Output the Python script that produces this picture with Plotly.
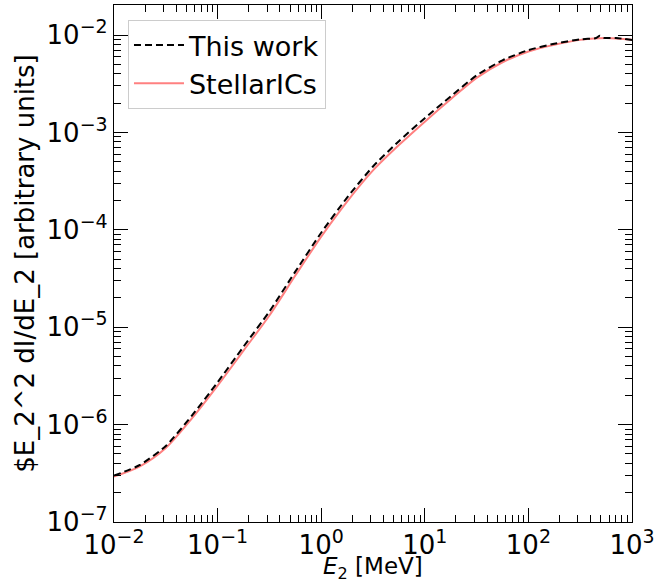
import plotly.graph_objects as go

# Photon energy E2 [MeV]
energy = [0.01, 0.01778, 0.03162, 0.05623, 0.1, 0.1778, 0.3162, 0.5623,
          1.0, 1.778, 3.162, 5.623, 10.0, 17.78, 31.62, 56.23,
          100.0, 177.8, 316.2, 562.3, 1000.0]

# StellarICs spectrum (arbitrary units)
stellarics = [2.92e-7, 3.72e-7, 5.75e-7, 1.15e-6, 2.51e-6, 5.75e-6, 1.32e-5, 3.39e-5,
              8.51e-5, 1.95e-4, 4.07e-4, 7.41e-4, 1.29e-3, 2.19e-3, 3.63e-3, 5.25e-3,
              6.76e-3, 7.94e-3, 8.91e-3, 9.33e-3, 8.91e-3]

# This work (slightly noisy at high energy)
energy_tw = [0.01, 0.01778, 0.03162, 0.05623, 0.1, 0.1778, 0.3162, 0.5623,
             1.0, 1.778, 3.162, 5.623, 10.0, 17.78, 31.62, 56.23,
             100.0, 177.8, 316.2, 450.0, 490.0, 530.0, 700.0, 850.0, 1000.0]
this_work = [2.99e-7, 3.85e-7, 6.03e-7, 1.23e-6, 2.72e-6, 6.31e-6, 1.45e-5, 3.72e-5,
             9.33e-5, 2.14e-4, 4.47e-4, 8.13e-4, 1.40e-3, 2.34e-3, 3.85e-3, 5.50e-3,
             7.00e-3, 8.13e-3, 9.02e-3, 9.30e-3, 9.85e-3, 9.35e-3, 9.30e-3, 9.10e-3, 8.90e-3]

x_tickvals = [1e-2, 1e-1, 1e0, 1e1, 1e2, 1e3]
x_exponents = ["−2", "−1", "0", "1", "2", "3"]
y_tickvals = [1e-7, 1e-6, 1e-5, 1e-4, 1e-3, 1e-2]
y_exponents = ["−7", "−6", "−5", "−4", "−3", "−2"]

x_title = "<i>E</i><sub>2</sub> [MeV]"
y_title = "$E_2^2 dI/dE_2 [arbitrary units]"

FONT = "DejaVu Sans"


def power_labels(exps):
    return ["10<sup><span style='font-size:19px'>%s</span></sup>" % e for e in exps]


fig = go.Figure()
fig.add_trace(go.Scatter(
    x=energy, y=stellarics, mode="lines", name="StellarICs",
    line=dict(color="#ff8080", width=2, shape="spline", smoothing=0.8),
))
fig.add_trace(go.Scatter(
    x=energy_tw, y=this_work, mode="lines", name="This work",
    line=dict(color="black", width=2, dash="7px,4px", shape="spline", smoothing=0.6),
))

axis_common = dict(
    type="log",
    automargin=False,
    showgrid=False,
    zeroline=False,
    showline=True,
    linecolor="black",
    linewidth=1.3,
    mirror="allticks",
    ticks="inside",
    ticklen=14,
    tickwidth=1.2,
    tickcolor="black",
    ticklabeloverflow="allow",
    tickfont=dict(family=FONT, size=26, color="black"),
    minor=dict(ticks="inside", ticklen=7, tickwidth=1, tickcolor="black",
               dtick="D1", showgrid=False),
)

fig.update_xaxes(
    **axis_common,
    range=[-2, 3],
    tickmode="array",
    tickvals=x_tickvals,
    ticktext=power_labels(x_exponents),
)
fig.update_yaxes(
    **axis_common,
    range=[-7, -1.692],
    tickmode="array",
    tickvals=y_tickvals,
    ticktext=power_labels(y_exponents),
    title=dict(text=y_title, font=dict(family=FONT, size=26, color="black"),
               standoff=4),
)

fig.add_annotation(
    text=x_title, xref="paper", yref="paper", x=0.5, y=-0.1215,
    xanchor="center", yanchor="bottom", showarrow=False,
    font=dict(family=FONT, size=23, color="black"),
)

fig.update_layout(
    width=654, height=586,
    margin=dict(l=114, r=22, t=5, b=64, autoexpand=False),
    plot_bgcolor="white",
    paper_bgcolor="white",
    font=dict(family=FONT, color="black"),
    legend=dict(
        x=0.027, y=0.971, xanchor="left", yanchor="top",
        bgcolor="rgba(255,255,255,0.8)",
        bordercolor="#cccccc", borderwidth=1,
        font=dict(family=FONT, size=27, color="black"),
        traceorder="reversed",
        itemwidth=50,
    ),
    showlegend=True,
)

fig.write_html("out.html")
